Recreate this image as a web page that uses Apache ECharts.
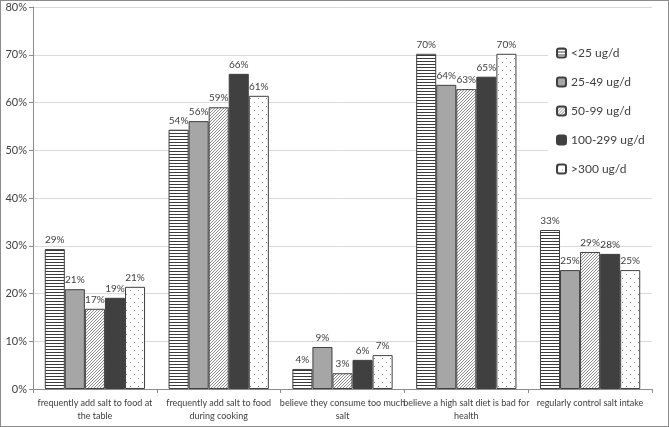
<!DOCTYPE html>
<html><head><meta charset="utf-8">
<script src="https://cdn.jsdelivr.net/npm/echarts@6/dist/echarts.min.js"></script>
<style>
html,body{margin:0;padding:0;background:#fff;}
#c{width:669px;height:427px;box-sizing:border-box;border:1px solid #8c8c8c;}
</style></head>
<body><div id="c"></div>
<script>
const categories = [
  "frequently add salt to food at\nthe table",
  "frequently add salt to food\nduring cooking",
  "believe they consume too much\nsalt",
  "believe a high salt diet is bad for\nhealth",
  "regularly control salt intake"
];
const seriesNames = ["<25 ug/d", "25-49 ug/d", "50-99 ug/d", "100-299 ug/d", ">300 ug/d"];
const s1 = [29.3, 54.3, 4.2, 70.2, 33.3];
const s2 = [20.9, 56.1, 8.8, 63.7, 24.9];
const s3 = [16.8, 59.0, 3.3, 62.8, 28.7];
const s4 = [19.1, 66.0, 6.1, 65.4, 28.3];
const s5 = [21.4, 61.4, 7.1, 70.2, 24.9];
const yTicks = [0, 10, 20, 30, 40, 50, 60, 70, 80];

function makeCanvas(w, h, draw) {
  const c = document.createElement('canvas');
  c.width = w; c.height = h;
  const ctx = c.getContext('2d');
  ctx.fillStyle = '#fff'; ctx.fillRect(0, 0, w, h);
  draw(ctx);
  return c;
}
const stripes = makeCanvas(4, 3, ctx => { ctx.fillStyle = '#3a3a3a'; ctx.fillRect(0, 0, 4, 1); });
const diag = makeCanvas(3, 3, ctx => {
  ctx.fillStyle = '#8a8a8a';
  ctx.fillRect(0, 2, 1, 1); ctx.fillRect(1, 1, 1, 1); ctx.fillRect(2, 0, 1, 1);
});
const dots = makeCanvas(8, 8, ctx => {
  ctx.fillStyle = '#8a8a8a';
  ctx.fillRect(1, 1, 1, 1); ctx.fillRect(5, 5, 1, 1);
});
const fills = [
  {image: stripes, repeat: 'repeat'},
  '#a6a6a6',
  {image: diag, repeat: 'repeat'},
  '#404040',
  {image: dots, repeat: 'repeat'}
];
const datas = [s1, s2, s3, s4, s5];
const FONT = 'Lato';

const chart = echarts.init(document.getElementById('c'), null, {renderer: 'canvas'});
chart.setOption({
  animation: false,
  backgroundColor: '#fff',
  grid: {left: 32, right: 16, top: 6, bottom: 37, containLabel: false},
  legend: {
    orient: 'vertical', left: 547, top: 38,
    padding: [8, 10, 8, 8], backgroundColor: '#fff',
    itemWidth: 9, itemHeight: 9, itemGap: 17,
    textStyle: {fontFamily: FONT, fontSize: 12, color: '#404040'},
    data: seriesNames
  },
  xAxis: {
    type: 'category', data: categories,
    axisLine: {lineStyle: {color: '#8c8c8c'}},
    axisTick: {show: true, length: 4, lineStyle: {color: '#8c8c8c'}},
    axisLabel: {fontFamily: FONT, fontSize: 9, color: '#404040', interval: 0, lineHeight: 13, margin: 8}
  },
  yAxis: {
    type: 'value', min: 0, max: 80, interval: 10,
    axisLine: {show: true, lineStyle: {color: '#8c8c8c'}},
    axisTick: {show: true, length: 4, lineStyle: {color: '#8c8c8c'}},
    splitLine: {lineStyle: {color: '#d9d9d9'}},
    axisLabel: {fontFamily: FONT, fontSize: 11, color: '#404040', margin: 6,
      formatter: v => yTicks.includes(v) ? v + '%' : ''}
  },
  series: seriesNames.map((n, i) => ({
    name: n, type: 'bar', data: datas[i],
    barGap: '0%', barCategoryGap: '19%',
    itemStyle: {color: fills[i], borderColor: '#404040', borderWidth: 1},
    label: {show: true, position: 'top', distance: 4, fontFamily: FONT, fontSize: 10, color: '#404040',
      formatter: p => Math.round(p.value) + '%'}
  }))
});
</script></body></html>
